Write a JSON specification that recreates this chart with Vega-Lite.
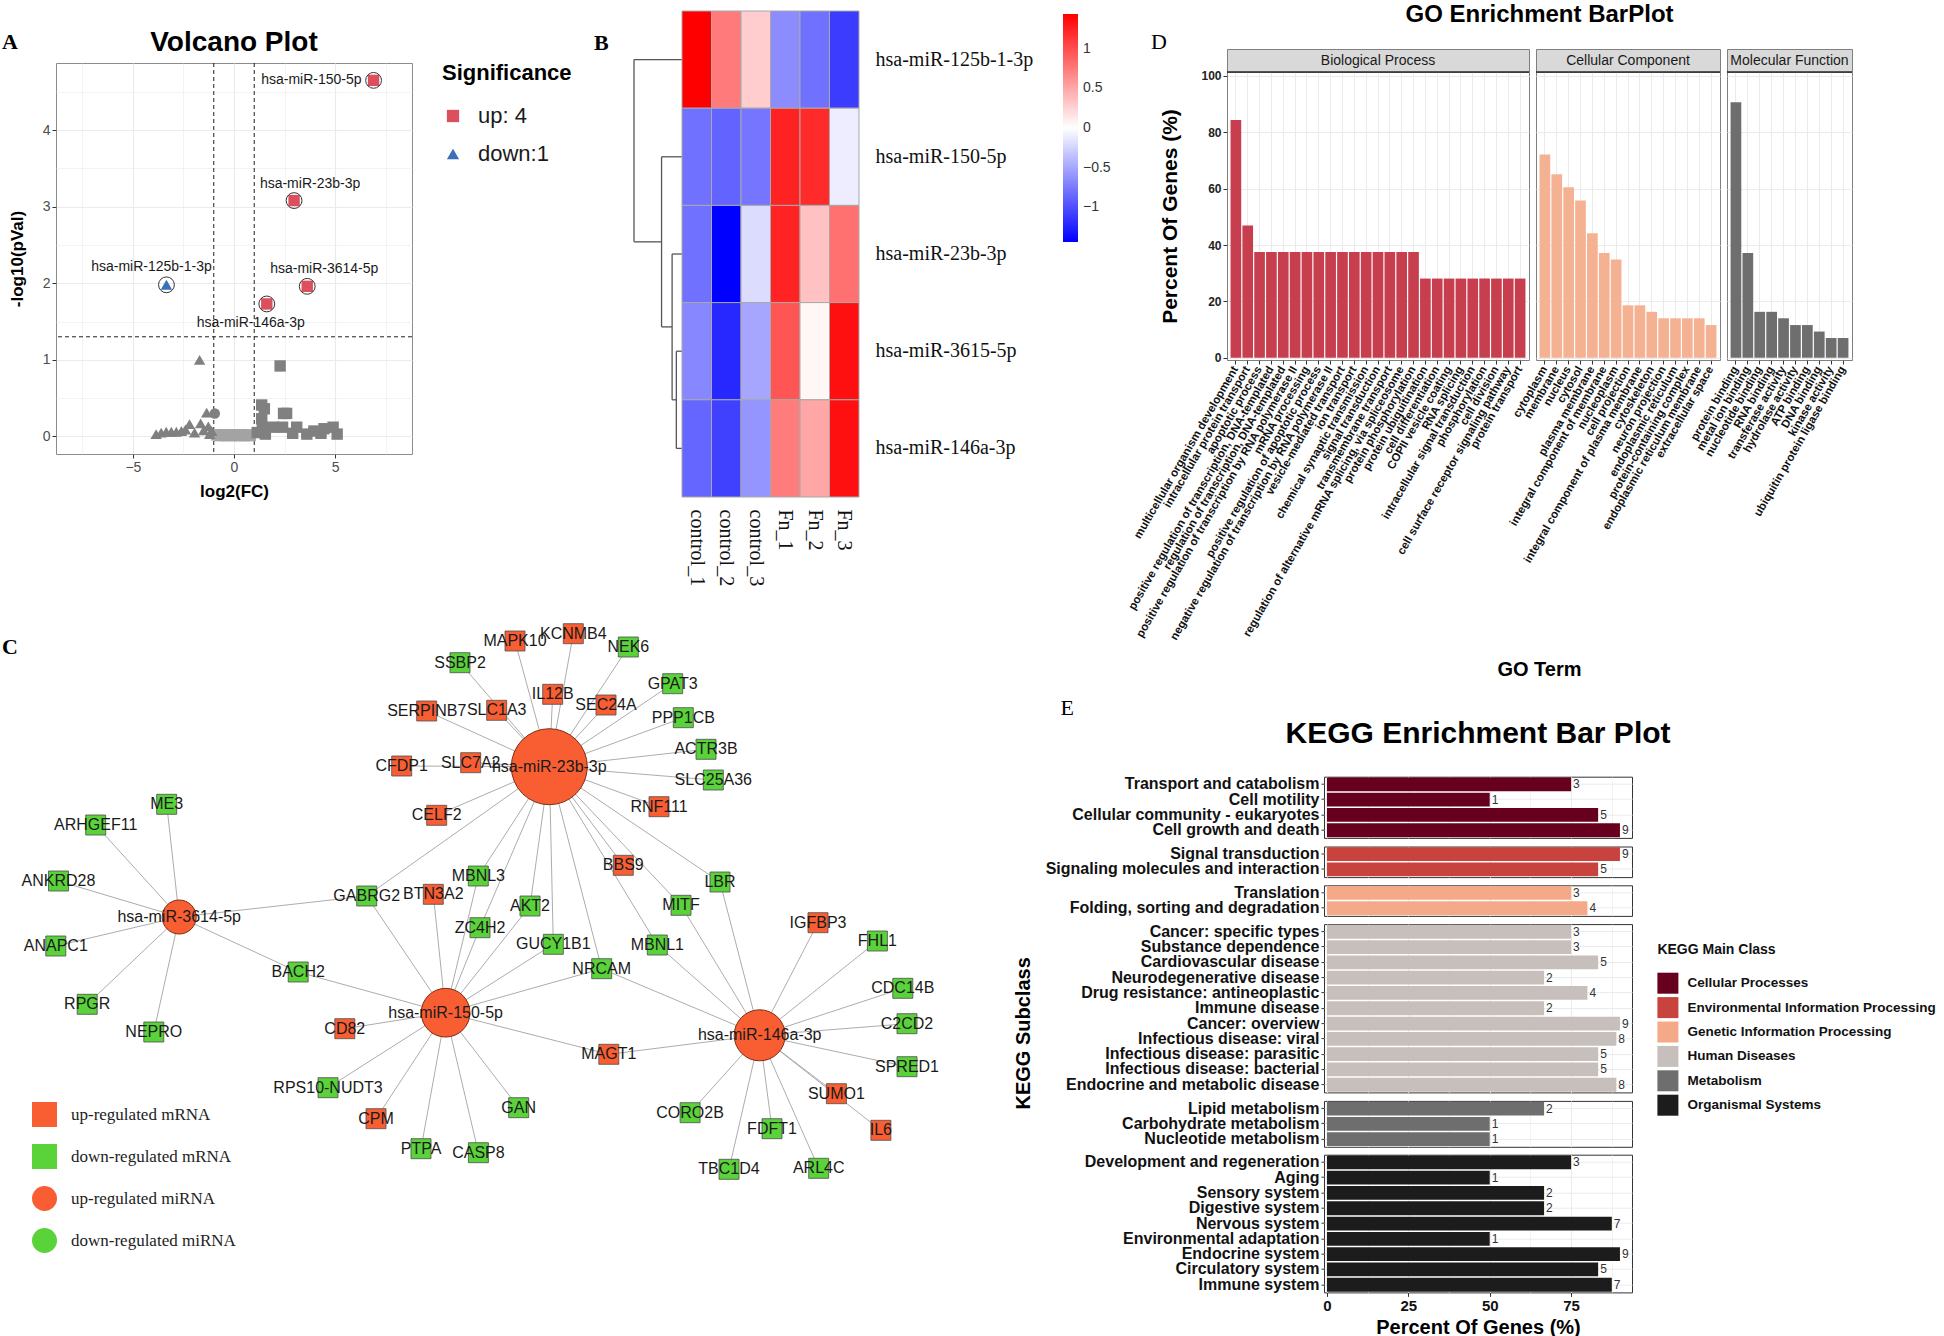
{
  "$schema": "https://vega.github.io/schema/vega-lite/v6.json",
  "background": "white",
  "padding": {"left": 2, "top": 3, "right": 0, "bottom": 0},
  "config": {
    "font": "Liberation Sans",
    "view": {"stroke": null},
    "axis": {"domain": false, "gridColor": "#EBEBEB", "tickColor": "#333333", "labelColor": "#1A1A1A", "titleColor": "#000000"},
    "legend": {"padding": 0},
    "title": {"color": "#000000"}
  },
  "datasets": {
    "volcano": [
      {"name": "hsa-miR-150-5p", "log2FC": 6.9, "logP": 4.65, "group": "up"},
      {"name": "hsa-miR-23b-3p", "log2FC": 2.97, "logP": 3.08, "group": "up"},
      {"name": "hsa-miR-3614-5p", "log2FC": 3.62, "logP": 1.96, "group": "up"},
      {"name": "hsa-miR-146a-3p", "log2FC": 1.62, "logP": 1.73, "group": "up"},
      {"name": "hsa-miR-125b-1-3p", "log2FC": -3.34, "logP": 1.98, "group": "down"},
      {"log2FC": -1.7, "logP": 1.0, "group": "ns_down"},
      {"log2FC": -1.35, "logP": 0.31, "group": "ns_down"},
      {"log2FC": -2.2, "logP": 0.16, "group": "ns_down"},
      {"log2FC": -1.65, "logP": 0.17, "group": "ns_down"},
      {"log2FC": -1.27, "logP": 0.13, "group": "ns_down"},
      {"log2FC": -3.85, "logP": 0.03, "group": "ns_down"},
      {"log2FC": -3.6, "logP": 0.05, "group": "ns_down"},
      {"log2FC": -3.35, "logP": 0.06, "group": "ns_down"},
      {"log2FC": -3.1, "logP": 0.06, "group": "ns_down"},
      {"log2FC": -2.85, "logP": 0.06, "group": "ns_down"},
      {"log2FC": -2.6, "logP": 0.07, "group": "ns_down"},
      {"log2FC": -2.4, "logP": 0.09, "group": "ns_down"},
      {"log2FC": -1.95, "logP": 0.05, "group": "ns_down"},
      {"log2FC": -1.5, "logP": 0.08, "group": "ns_down"},
      {"log2FC": -1.1, "logP": 0.07, "group": "ns_down"},
      {"log2FC": -1.2, "logP": 0.03, "group": "ns_down"},
      {"log2FC": -0.95, "logP": 0.3, "group": "ns_circle"},
      {"log2FC": 2.28, "logP": 0.92, "group": "ns_up"},
      {"log2FC": 1.37, "logP": 0.41, "group": "ns_up"},
      {"log2FC": 1.5, "logP": 0.36, "group": "ns_up"},
      {"log2FC": 2.45, "logP": 0.3, "group": "ns_up"},
      {"log2FC": 2.6, "logP": 0.3, "group": "ns_up"},
      {"log2FC": 1.37, "logP": 0.23, "group": "ns_up"},
      {"log2FC": 1.4, "logP": 0.12, "group": "ns_up"},
      {"log2FC": 1.95, "logP": 0.12, "group": "ns_up"},
      {"log2FC": 2.4, "logP": 0.12, "group": "ns_up"},
      {"log2FC": 3.1, "logP": 0.12, "group": "ns_up"},
      {"log2FC": 3.95, "logP": 0.07, "group": "ns_up"},
      {"log2FC": 4.45, "logP": 0.1, "group": "ns_up"},
      {"log2FC": 4.9, "logP": 0.12, "group": "ns_up"},
      {"log2FC": 5.1, "logP": 0.03, "group": "ns_up"},
      {"log2FC": 3.6, "logP": 0.03, "group": "ns_up"},
      {"log2FC": 1.55, "logP": 0.03, "group": "ns_up"},
      {"log2FC": 2.9, "logP": 0.04, "group": "ns_up"},
      {"log2FC": 4.3, "logP": 0.04, "group": "ns_up"},
      {"log2FC": 1.15, "logP": 0.05, "group": "ns_up"},
      {"log2FC": -0.85, "logP": 0.02, "group": "ns_mid"},
      {"log2FC": -0.7, "logP": 0.01, "group": "ns_mid"},
      {"log2FC": -0.55, "logP": 0.02, "group": "ns_mid"},
      {"log2FC": -0.4, "logP": 0.01, "group": "ns_mid"},
      {"log2FC": -0.25, "logP": 0.02, "group": "ns_mid"},
      {"log2FC": -0.1, "logP": 0.01, "group": "ns_mid"},
      {"log2FC": 0.05, "logP": 0.02, "group": "ns_mid"},
      {"log2FC": 0.2, "logP": 0.01, "group": "ns_mid"},
      {"log2FC": 0.35, "logP": 0.02, "group": "ns_mid"},
      {"log2FC": 0.5, "logP": 0.01, "group": "ns_mid"},
      {"log2FC": 0.65, "logP": 0.02, "group": "ns_mid"},
      {"log2FC": 0.8, "logP": 0.01, "group": "ns_mid"}
    ],
    "heat": [
      {"mirna": "hsa-miR-125b-1-3p", "sample": "control_1", "z": 1.44},
      {"mirna": "hsa-miR-125b-1-3p", "sample": "control_2", "z": 0.75},
      {"mirna": "hsa-miR-125b-1-3p", "sample": "control_3", "z": 0.28},
      {"mirna": "hsa-miR-125b-1-3p", "sample": "Fn_1", "z": -0.65},
      {"mirna": "hsa-miR-125b-1-3p", "sample": "Fn_2", "z": -0.8},
      {"mirna": "hsa-miR-125b-1-3p", "sample": "Fn_3", "z": -1.1},
      {"mirna": "hsa-miR-150-5p", "sample": "control_1", "z": -0.8},
      {"mirna": "hsa-miR-150-5p", "sample": "control_2", "z": -0.88},
      {"mirna": "hsa-miR-150-5p", "sample": "control_3", "z": -0.78},
      {"mirna": "hsa-miR-150-5p", "sample": "Fn_1", "z": 1.25},
      {"mirna": "hsa-miR-150-5p", "sample": "Fn_2", "z": 1.2},
      {"mirna": "hsa-miR-150-5p", "sample": "Fn_3", "z": -0.1},
      {"mirna": "hsa-miR-23b-3p", "sample": "control_1", "z": -0.8},
      {"mirna": "hsa-miR-23b-3p", "sample": "control_2", "z": -1.44},
      {"mirna": "hsa-miR-23b-3p", "sample": "control_3", "z": -0.2},
      {"mirna": "hsa-miR-23b-3p", "sample": "Fn_1", "z": 1.24},
      {"mirna": "hsa-miR-23b-3p", "sample": "Fn_2", "z": 0.35},
      {"mirna": "hsa-miR-23b-3p", "sample": "Fn_3", "z": 0.8},
      {"mirna": "hsa-miR-3615-5p", "sample": "control_1", "z": -0.68},
      {"mirna": "hsa-miR-3615-5p", "sample": "control_2", "z": -1.22},
      {"mirna": "hsa-miR-3615-5p", "sample": "control_3", "z": -0.5},
      {"mirna": "hsa-miR-3615-5p", "sample": "Fn_1", "z": 0.96},
      {"mirna": "hsa-miR-3615-5p", "sample": "Fn_2", "z": 0.05},
      {"mirna": "hsa-miR-3615-5p", "sample": "Fn_3", "z": 1.35},
      {"mirna": "hsa-miR-146a-3p", "sample": "control_1", "z": -0.87},
      {"mirna": "hsa-miR-146a-3p", "sample": "control_2", "z": -1.08},
      {"mirna": "hsa-miR-146a-3p", "sample": "control_3", "z": -0.6},
      {"mirna": "hsa-miR-146a-3p", "sample": "Fn_1", "z": 0.74},
      {"mirna": "hsa-miR-146a-3p", "sample": "Fn_2", "z": 0.5},
      {"mirna": "hsa-miR-146a-3p", "sample": "Fn_3", "z": 1.35}
    ],
    "dendro": [
      {"h": 1, "h2": 1, "pos": 0.5, "pos2": 2.375},
      {"h": 1, "h2": 0, "pos": 0.5, "pos2": 0.5},
      {"h": 1, "h2": 0.426, "pos": 2.375, "pos2": 2.375},
      {"h": 0.426, "h2": 0.426, "pos": 1.5, "pos2": 3.25},
      {"h": 0.426, "h2": 0, "pos": 1.5, "pos2": 1.5},
      {"h": 0.426, "h2": 0.206, "pos": 3.25, "pos2": 3.25},
      {"h": 0.206, "h2": 0.206, "pos": 2.5, "pos2": 4.0},
      {"h": 0.206, "h2": 0, "pos": 2.5, "pos2": 2.5},
      {"h": 0.206, "h2": 0.118, "pos": 4.0, "pos2": 4.0},
      {"h": 0.118, "h2": 0.118, "pos": 3.5, "pos2": 4.5},
      {"h": 0.118, "h2": 0, "pos": 3.5, "pos2": 3.5},
      {"h": 0.118, "h2": 0, "pos": 4.5, "pos2": 4.5}
    ],
    "nodes": [
      {"name": "hsa-miR-23b-3p", "kind": "miRNA", "type": "up-regulated miRNA", "x": 549.3, "y": 765.7, "degree": 26},
      {"name": "hsa-miR-3614-5p", "kind": "miRNA", "type": "up-regulated miRNA", "x": 179.2, "y": 916, "degree": 8},
      {"name": "hsa-miR-150-5p", "kind": "miRNA", "type": "up-regulated miRNA", "x": 445.6, "y": 1011.7, "degree": 15},
      {"name": "hsa-miR-146a-3p", "kind": "miRNA", "type": "up-regulated miRNA", "x": 759.7, "y": 1034.3, "degree": 16},
      {"name": "MAPK10", "kind": "mRNA", "type": "up-regulated mRNA", "x": 515, "y": 640},
      {"name": "KCNMB4", "kind": "mRNA", "type": "up-regulated mRNA", "x": 573.3, "y": 632.7},
      {"name": "NEK6", "kind": "mRNA", "type": "down-regulated mRNA", "x": 628.3, "y": 646},
      {"name": "SSBP2", "kind": "mRNA", "type": "down-regulated mRNA", "x": 460, "y": 661.7},
      {"name": "GPAT3", "kind": "mRNA", "type": "down-regulated mRNA", "x": 672.7, "y": 682.7},
      {"name": "IL12B", "kind": "mRNA", "type": "up-regulated mRNA", "x": 552.7, "y": 693.3},
      {"name": "SEC24A", "kind": "mRNA", "type": "up-regulated mRNA", "x": 606, "y": 704},
      {"name": "SERPINB7", "kind": "mRNA", "type": "up-regulated mRNA", "x": 426.7, "y": 710},
      {"name": "SLC1A3", "kind": "mRNA", "type": "up-regulated mRNA", "x": 496.7, "y": 709.3},
      {"name": "PPP1CB", "kind": "mRNA", "type": "down-regulated mRNA", "x": 683.3, "y": 716.7},
      {"name": "ACTR3B", "kind": "mRNA", "type": "down-regulated mRNA", "x": 706, "y": 748.3},
      {"name": "CFDP1", "kind": "mRNA", "type": "up-regulated mRNA", "x": 401.7, "y": 765},
      {"name": "SLC7A2", "kind": "mRNA", "type": "up-regulated mRNA", "x": 470.7, "y": 761.7},
      {"name": "SLC25A36", "kind": "mRNA", "type": "down-regulated mRNA", "x": 713.3, "y": 779},
      {"name": "RNF111", "kind": "mRNA", "type": "up-regulated mRNA", "x": 659, "y": 805.7},
      {"name": "CELF2", "kind": "mRNA", "type": "up-regulated mRNA", "x": 436.7, "y": 814.3},
      {"name": "BBS9", "kind": "mRNA", "type": "up-regulated mRNA", "x": 623.3, "y": 864.3},
      {"name": "LBR", "kind": "mRNA", "type": "down-regulated mRNA", "x": 720, "y": 881},
      {"name": "MBNL3", "kind": "mRNA", "type": "down-regulated mRNA", "x": 478.3, "y": 875},
      {"name": "GABRG2", "kind": "mRNA", "type": "down-regulated mRNA", "x": 366.7, "y": 895},
      {"name": "BTN3A2", "kind": "mRNA", "type": "up-regulated mRNA", "x": 433.3, "y": 893.3},
      {"name": "MITF", "kind": "mRNA", "type": "down-regulated mRNA", "x": 681, "y": 904.3},
      {"name": "AKT2", "kind": "mRNA", "type": "down-regulated mRNA", "x": 530, "y": 905},
      {"name": "ZC4H2", "kind": "mRNA", "type": "down-regulated mRNA", "x": 480, "y": 926.7},
      {"name": "GUCY1B1", "kind": "mRNA", "type": "down-regulated mRNA", "x": 553.3, "y": 943.3},
      {"name": "MBNL1", "kind": "mRNA", "type": "down-regulated mRNA", "x": 657.3, "y": 944},
      {"name": "NRCAM", "kind": "mRNA", "type": "down-regulated mRNA", "x": 601.7, "y": 967.7},
      {"name": "ME3", "kind": "mRNA", "type": "down-regulated mRNA", "x": 166.7, "y": 803.3},
      {"name": "ARHGEF11", "kind": "mRNA", "type": "down-regulated mRNA", "x": 95.7, "y": 824},
      {"name": "ANKRD28", "kind": "mRNA", "type": "down-regulated mRNA", "x": 58.5, "y": 880},
      {"name": "ANAPC1", "kind": "mRNA", "type": "down-regulated mRNA", "x": 55.8, "y": 945},
      {"name": "BACH2", "kind": "mRNA", "type": "down-regulated mRNA", "x": 298.2, "y": 971},
      {"name": "RPGR", "kind": "mRNA", "type": "down-regulated mRNA", "x": 87.2, "y": 1003.3},
      {"name": "NEPRO", "kind": "mRNA", "type": "down-regulated mRNA", "x": 153.8, "y": 1031},
      {"name": "CD82", "kind": "mRNA", "type": "up-regulated mRNA", "x": 344.8, "y": 1027.7},
      {"name": "RPS10-NUDT3", "kind": "mRNA", "type": "down-regulated mRNA", "x": 328, "y": 1086.7},
      {"name": "CPM", "kind": "mRNA", "type": "up-regulated mRNA", "x": 376, "y": 1117.7},
      {"name": "PTPA", "kind": "mRNA", "type": "down-regulated mRNA", "x": 421, "y": 1147.7},
      {"name": "CASP8", "kind": "mRNA", "type": "down-regulated mRNA", "x": 478.4, "y": 1151.7},
      {"name": "GAN", "kind": "mRNA", "type": "down-regulated mRNA", "x": 518.7, "y": 1106.7},
      {"name": "IGFBP3", "kind": "mRNA", "type": "up-regulated mRNA", "x": 818, "y": 921.7},
      {"name": "FHL1", "kind": "mRNA", "type": "down-regulated mRNA", "x": 877.4, "y": 940},
      {"name": "CDC14B", "kind": "mRNA", "type": "down-regulated mRNA", "x": 902.8, "y": 987.3},
      {"name": "C2CD2", "kind": "mRNA", "type": "down-regulated mRNA", "x": 907, "y": 1022.7},
      {"name": "SPRED1", "kind": "mRNA", "type": "down-regulated mRNA", "x": 907, "y": 1065.7},
      {"name": "MAGT1", "kind": "mRNA", "type": "up-regulated mRNA", "x": 608.8, "y": 1053.3},
      {"name": "SUMO1", "kind": "mRNA", "type": "up-regulated mRNA", "x": 836.4, "y": 1092.7},
      {"name": "IL6", "kind": "mRNA", "type": "up-regulated mRNA", "x": 880.9, "y": 1129.3},
      {"name": "CORO2B", "kind": "mRNA", "type": "down-regulated mRNA", "x": 690.1, "y": 1111.7},
      {"name": "FDFT1", "kind": "mRNA", "type": "down-regulated mRNA", "x": 772, "y": 1127.7},
      {"name": "TBC1D4", "kind": "mRNA", "type": "down-regulated mRNA", "x": 729, "y": 1168.3},
      {"name": "ARL4C", "kind": "mRNA", "type": "down-regulated mRNA", "x": 818.7, "y": 1167.3}
    ],
    "edges": [
      {"source": "hsa-miR-23b-3p", "target": "MAPK10"},
      {"source": "hsa-miR-23b-3p", "target": "KCNMB4"},
      {"source": "hsa-miR-23b-3p", "target": "NEK6"},
      {"source": "hsa-miR-23b-3p", "target": "SSBP2"},
      {"source": "hsa-miR-23b-3p", "target": "GPAT3"},
      {"source": "hsa-miR-23b-3p", "target": "IL12B"},
      {"source": "hsa-miR-23b-3p", "target": "SEC24A"},
      {"source": "hsa-miR-23b-3p", "target": "SERPINB7"},
      {"source": "hsa-miR-23b-3p", "target": "SLC1A3"},
      {"source": "hsa-miR-23b-3p", "target": "PPP1CB"},
      {"source": "hsa-miR-23b-3p", "target": "ACTR3B"},
      {"source": "hsa-miR-23b-3p", "target": "CFDP1"},
      {"source": "hsa-miR-23b-3p", "target": "SLC7A2"},
      {"source": "hsa-miR-23b-3p", "target": "SLC25A36"},
      {"source": "hsa-miR-23b-3p", "target": "RNF111"},
      {"source": "hsa-miR-23b-3p", "target": "CELF2"},
      {"source": "hsa-miR-23b-3p", "target": "BBS9"},
      {"source": "hsa-miR-23b-3p", "target": "LBR"},
      {"source": "hsa-miR-23b-3p", "target": "MITF"},
      {"source": "hsa-miR-23b-3p", "target": "MBNL1"},
      {"source": "hsa-miR-23b-3p", "target": "MBNL3"},
      {"source": "hsa-miR-23b-3p", "target": "GABRG2"},
      {"source": "hsa-miR-23b-3p", "target": "AKT2"},
      {"source": "hsa-miR-23b-3p", "target": "ZC4H2"},
      {"source": "hsa-miR-23b-3p", "target": "GUCY1B1"},
      {"source": "hsa-miR-23b-3p", "target": "NRCAM"},
      {"source": "hsa-miR-3614-5p", "target": "ME3"},
      {"source": "hsa-miR-3614-5p", "target": "ARHGEF11"},
      {"source": "hsa-miR-3614-5p", "target": "ANKRD28"},
      {"source": "hsa-miR-3614-5p", "target": "ANAPC1"},
      {"source": "hsa-miR-3614-5p", "target": "RPGR"},
      {"source": "hsa-miR-3614-5p", "target": "NEPRO"},
      {"source": "hsa-miR-3614-5p", "target": "GABRG2"},
      {"source": "hsa-miR-3614-5p", "target": "BACH2"},
      {"source": "hsa-miR-150-5p", "target": "BACH2"},
      {"source": "hsa-miR-150-5p", "target": "GABRG2"},
      {"source": "hsa-miR-150-5p", "target": "BTN3A2"},
      {"source": "hsa-miR-150-5p", "target": "MBNL3"},
      {"source": "hsa-miR-150-5p", "target": "ZC4H2"},
      {"source": "hsa-miR-150-5p", "target": "AKT2"},
      {"source": "hsa-miR-150-5p", "target": "GUCY1B1"},
      {"source": "hsa-miR-150-5p", "target": "NRCAM"},
      {"source": "hsa-miR-150-5p", "target": "CD82"},
      {"source": "hsa-miR-150-5p", "target": "RPS10-NUDT3"},
      {"source": "hsa-miR-150-5p", "target": "CPM"},
      {"source": "hsa-miR-150-5p", "target": "PTPA"},
      {"source": "hsa-miR-150-5p", "target": "CASP8"},
      {"source": "hsa-miR-150-5p", "target": "GAN"},
      {"source": "hsa-miR-150-5p", "target": "MAGT1"},
      {"source": "hsa-miR-146a-3p", "target": "NRCAM"},
      {"source": "hsa-miR-146a-3p", "target": "MBNL1"},
      {"source": "hsa-miR-146a-3p", "target": "MITF"},
      {"source": "hsa-miR-146a-3p", "target": "LBR"},
      {"source": "hsa-miR-146a-3p", "target": "IGFBP3"},
      {"source": "hsa-miR-146a-3p", "target": "FHL1"},
      {"source": "hsa-miR-146a-3p", "target": "CDC14B"},
      {"source": "hsa-miR-146a-3p", "target": "C2CD2"},
      {"source": "hsa-miR-146a-3p", "target": "SPRED1"},
      {"source": "hsa-miR-146a-3p", "target": "SUMO1"},
      {"source": "hsa-miR-146a-3p", "target": "IL6"},
      {"source": "hsa-miR-146a-3p", "target": "CORO2B"},
      {"source": "hsa-miR-146a-3p", "target": "FDFT1"},
      {"source": "hsa-miR-146a-3p", "target": "TBC1D4"},
      {"source": "hsa-miR-146a-3p", "target": "ARL4C"},
      {"source": "hsa-miR-146a-3p", "target": "MAGT1"}
    ],
    "go": [
      {"facet": "Biological Process", "term": "multicellular organism development", "pct": 84.4},
      {"facet": "Biological Process", "term": "intracellular protein transport", "pct": 46.9},
      {"facet": "Biological Process", "term": "apoptotic process", "pct": 37.5},
      {"facet": "Biological Process", "term": "positive regulation of transcription, DNA-templated", "pct": 37.5},
      {"facet": "Biological Process", "term": "regulation of transcription, DNA-templated", "pct": 37.5},
      {"facet": "Biological Process", "term": "positive regulation of transcription by RNA polymerase II", "pct": 37.5},
      {"facet": "Biological Process", "term": "mRNA processing", "pct": 37.5},
      {"facet": "Biological Process", "term": "positive regulation of apoptotic process", "pct": 37.5},
      {"facet": "Biological Process", "term": "negative regulation of transcription by RNA polymerase II", "pct": 37.5},
      {"facet": "Biological Process", "term": "vesicle-mediated transport", "pct": 37.5},
      {"facet": "Biological Process", "term": "ion transport", "pct": 37.5},
      {"facet": "Biological Process", "term": "chemical synaptic transmission", "pct": 37.5},
      {"facet": "Biological Process", "term": "signal transduction", "pct": 37.5},
      {"facet": "Biological Process", "term": "transmembrane transport", "pct": 37.5},
      {"facet": "Biological Process", "term": "regulation of alternative mRNA splicing, via spliceosome", "pct": 37.5},
      {"facet": "Biological Process", "term": "protein phosphorylation", "pct": 37.5},
      {"facet": "Biological Process", "term": "protein ubiquitination", "pct": 28.1},
      {"facet": "Biological Process", "term": "cell differentiation", "pct": 28.1},
      {"facet": "Biological Process", "term": "COPII vesicle coating", "pct": 28.1},
      {"facet": "Biological Process", "term": "RNA splicing", "pct": 28.1},
      {"facet": "Biological Process", "term": "intracellular signal transduction", "pct": 28.1},
      {"facet": "Biological Process", "term": "phosphorylation", "pct": 28.1},
      {"facet": "Biological Process", "term": "cell division", "pct": 28.1},
      {"facet": "Biological Process", "term": "cell surface receptor signaling pathway", "pct": 28.1},
      {"facet": "Biological Process", "term": "protein transport", "pct": 28.1},
      {"facet": "Cellular Component", "term": "cytoplasm", "pct": 72.1},
      {"facet": "Cellular Component", "term": "membrane", "pct": 65.1},
      {"facet": "Cellular Component", "term": "nucleus", "pct": 60.5},
      {"facet": "Cellular Component", "term": "cytosol", "pct": 55.8},
      {"facet": "Cellular Component", "term": "plasma membrane", "pct": 44.2},
      {"facet": "Cellular Component", "term": "integral component of membrane", "pct": 37.2},
      {"facet": "Cellular Component", "term": "nucleoplasm", "pct": 34.9},
      {"facet": "Cellular Component", "term": "cell projection", "pct": 18.6},
      {"facet": "Cellular Component", "term": "integral component of plasma membrane", "pct": 18.6},
      {"facet": "Cellular Component", "term": "cytoskeleton", "pct": 16.3},
      {"facet": "Cellular Component", "term": "neuron projection", "pct": 14.0},
      {"facet": "Cellular Component", "term": "endoplasmic reticulum", "pct": 14.0},
      {"facet": "Cellular Component", "term": "protein-containing complex", "pct": 14.0},
      {"facet": "Cellular Component", "term": "endoplasmic reticulum membrane", "pct": 14.0},
      {"facet": "Cellular Component", "term": "extracellular space", "pct": 11.6},
      {"facet": "Molecular Function", "term": "protein binding", "pct": 90.7},
      {"facet": "Molecular Function", "term": "metal ion binding", "pct": 37.2},
      {"facet": "Molecular Function", "term": "nucleotide binding", "pct": 16.3},
      {"facet": "Molecular Function", "term": "RNA binding", "pct": 16.3},
      {"facet": "Molecular Function", "term": "transferase activity", "pct": 14.0},
      {"facet": "Molecular Function", "term": "hydrolase activity", "pct": 11.6},
      {"facet": "Molecular Function", "term": "ATP binding", "pct": 11.6},
      {"facet": "Molecular Function", "term": "DNA binding", "pct": 9.3},
      {"facet": "Molecular Function", "term": "kinase activity", "pct": 7.0},
      {"facet": "Molecular Function", "term": "ubiquitin protein ligase binding", "pct": 7.0}
    ],
    "kegg": [
      {"class": "Cellular Processes", "subclass": "Transport and catabolism", "pct": 75, "count": 3},
      {"class": "Cellular Processes", "subclass": "Cell motility", "pct": 50, "count": 1},
      {"class": "Cellular Processes", "subclass": "Cellular community - eukaryotes", "pct": 83.3, "count": 5},
      {"class": "Cellular Processes", "subclass": "Cell growth and death", "pct": 90, "count": 9},
      {"class": "Environmental Information Processing", "subclass": "Signal transduction", "pct": 90, "count": 9},
      {"class": "Environmental Information Processing", "subclass": "Signaling molecules and interaction", "pct": 83.3, "count": 5},
      {"class": "Genetic Information Processing", "subclass": "Translation", "pct": 75, "count": 3},
      {"class": "Genetic Information Processing", "subclass": "Folding, sorting and degradation", "pct": 80, "count": 4},
      {"class": "Human Diseases", "subclass": "Cancer: specific types", "pct": 75, "count": 3},
      {"class": "Human Diseases", "subclass": "Substance dependence", "pct": 75, "count": 3},
      {"class": "Human Diseases", "subclass": "Cardiovascular disease", "pct": 83.3, "count": 5},
      {"class": "Human Diseases", "subclass": "Neurodegenerative disease", "pct": 66.7, "count": 2},
      {"class": "Human Diseases", "subclass": "Drug resistance: antineoplastic", "pct": 80, "count": 4},
      {"class": "Human Diseases", "subclass": "Immune disease", "pct": 66.7, "count": 2},
      {"class": "Human Diseases", "subclass": "Cancer: overview", "pct": 90, "count": 9},
      {"class": "Human Diseases", "subclass": "Infectious disease: viral", "pct": 88.9, "count": 8},
      {"class": "Human Diseases", "subclass": "Infectious disease: parasitic", "pct": 83.3, "count": 5},
      {"class": "Human Diseases", "subclass": "Infectious disease: bacterial", "pct": 83.3, "count": 5},
      {"class": "Human Diseases", "subclass": "Endocrine and metabolic disease", "pct": 88.9, "count": 8},
      {"class": "Metabolism", "subclass": "Lipid metabolism", "pct": 66.7, "count": 2},
      {"class": "Metabolism", "subclass": "Carbohydrate metabolism", "pct": 50, "count": 1},
      {"class": "Metabolism", "subclass": "Nucleotide metabolism", "pct": 50, "count": 1},
      {"class": "Organismal Systems", "subclass": "Development and regeneration", "pct": 75, "count": 3},
      {"class": "Organismal Systems", "subclass": "Aging", "pct": 50, "count": 1},
      {"class": "Organismal Systems", "subclass": "Sensory system", "pct": 66.7, "count": 2},
      {"class": "Organismal Systems", "subclass": "Digestive system", "pct": 66.7, "count": 2},
      {"class": "Organismal Systems", "subclass": "Nervous system", "pct": 87.5, "count": 7},
      {"class": "Organismal Systems", "subclass": "Environmental adaptation", "pct": 50, "count": 1},
      {"class": "Organismal Systems", "subclass": "Endocrine system", "pct": 90, "count": 9},
      {"class": "Organismal Systems", "subclass": "Circulatory system", "pct": 83.3, "count": 5},
      {"class": "Organismal Systems", "subclass": "Immune system", "pct": 87.5, "count": 7}
    ]
  },
  "hconcat": [
    {
      "vconcat": [
        {
          "hconcat": [
            {
              "vconcat": [
                {
                  "width": 356, "height": 52,
                  "title": {"text": "A", "font": "Liberation Serif", "fontSize": 22, "fontWeight": "bold", "anchor": "start", "frame": "group", "dx": -54, "offset": -60, "baseline": "alphabetic"},
                  "data": {"values": []},
                  "mark": "point",
                  "encoding": {}
                },
                {
                  "width": 356, "height": 391,
                  "view": {"stroke": "#8C8C8C", "strokeWidth": 1},
                  "title": {"text": "Volcano Plot", "fontSize": 28, "fontWeight": "bold", "anchor": "middle", "frame": "group", "offset": -16, "baseline": "alphabetic"},
                  "layer": [
                    {
                      "data": {"values": [{"log2FC": -1}, {"log2FC": 1}]},
                      "mark": {"type": "rule", "strokeDash": [4, 3], "color": "#222222", "strokeWidth": 1},
                      "encoding": {
                        "x": {"field": "log2FC", "type": "quantitative", "scale": {"domain": [-8.8, 8.8], "nice": false, "zero": false},
                          "axis": {"values": [-7.5, -5, -2.5, 0, 2.5, 5, 7.5], "labelExpr": "datum.value % 5 === 0 ? format(datum.value, 'd') : ''", "tickOpacity": {"condition": {"test": "datum.value % 5 !== 0", "value": 0}, "value": 1}, "gridWidth": {"condition": {"test": "datum.value % 5 !== 0", "value": 0.6}, "value": 1.1}, "title": "log2(FC)", "titleFontSize": 17, "titleFontWeight": "bold", "titlePadding": 9, "labelFontSize": 14, "labelColor": "#4D4D4D", "tickSize": 4}}
                      }
                    },
                    {
                      "data": {"values": [{"logP": 1.30103}]},
                      "mark": {"type": "rule", "strokeDash": [4, 3], "color": "#222222", "strokeWidth": 1},
                      "encoding": {
                        "y": {"field": "logP", "type": "quantitative", "scale": {"domain": [-0.23, 4.877], "nice": false, "zero": false},
                          "axis": {"values": [0, 0.5, 1, 1.5, 2, 2.5, 3, 3.5, 4, 4.5], "labelExpr": "datum.value % 1 === 0 ? format(datum.value, 'd') : ''", "tickOpacity": {"condition": {"test": "datum.value % 1 !== 0", "value": 0}, "value": 1}, "gridWidth": {"condition": {"test": "datum.value % 1 !== 0", "value": 0.6}, "value": 1.1}, "title": "-log10(pVal)", "titleFontSize": 17, "titleFontWeight": "bold", "titlePadding": 16, "labelFontSize": 14, "labelColor": "#4D4D4D", "tickSize": 4}}
                      }
                    },
                    {
                      "data": {"name": "volcano"},
                      "transform": [{"filter": "datum.group === 'ns_mid'"}],
                      "mark": {"type": "point", "shape": "square", "filled": true, "size": 130, "color": "#A3A3A3", "opacity": 1},
                      "encoding": {"x": {"field": "log2FC", "type": "quantitative"}, "y": {"field": "logP", "type": "quantitative"}}
                    },
                    {
                      "data": {"name": "volcano"},
                      "transform": [{"filter": "datum.group === 'ns_down'"}],
                      "mark": {"type": "point", "shape": "triangle-up", "filled": true, "size": 130, "color": "#808080", "opacity": 1},
                      "encoding": {"x": {"field": "log2FC", "type": "quantitative"}, "y": {"field": "logP", "type": "quantitative"}}
                    },
                    {
                      "data": {"name": "volcano"},
                      "transform": [{"filter": "datum.group === 'ns_circle'"}],
                      "mark": {"type": "point", "shape": "circle", "filled": true, "size": 110, "color": "#808080", "opacity": 1},
                      "encoding": {"x": {"field": "log2FC", "type": "quantitative"}, "y": {"field": "logP", "type": "quantitative"}}
                    },
                    {
                      "data": {"name": "volcano"},
                      "transform": [{"filter": "datum.group === 'ns_up'"}],
                      "mark": {"type": "point", "shape": "square", "filled": true, "size": 130, "color": "#808080", "opacity": 1},
                      "encoding": {"x": {"field": "log2FC", "type": "quantitative"}, "y": {"field": "logP", "type": "quantitative"}}
                    },
                    {
                      "data": {"name": "volcano"},
                      "transform": [{"filter": "datum.group === 'up' || datum.group === 'down'"}],
                      "mark": {"type": "point", "filled": true, "size": 130, "opacity": 0.92},
                      "encoding": {
                        "x": {"field": "log2FC", "type": "quantitative"},
                        "y": {"field": "logP", "type": "quantitative"},
                        "color": {"field": "group", "type": "nominal", "scale": {"domain": ["up", "down"], "range": ["#D9404F", "#2C63B0"]},
                          "legend": {"title": "Significance", "orient": "none", "legendX": 386, "legendY": 0, "titleFontSize": 22, "titleFontWeight": "bold", "titlePadding": 20, "labelFontSize": 22, "labelColor": "#1A1A1A", "labelExpr": "datum.label === 'up' ? 'up: 4' : 'down:1'", "symbolSize": 150, "rowPadding": 16, "labelOffset": 14, "symbolStrokeWidth": 0}},
                        "shape": {"field": "group", "type": "nominal", "scale": {"domain": ["up", "down"], "range": ["square", "triangle-up"]},
                          "legend": {"title": "Significance", "orient": "none", "legendX": 386, "legendY": 0, "titleFontSize": 22, "titleFontWeight": "bold", "titlePadding": 20, "labelFontSize": 22, "labelColor": "#1A1A1A", "labelExpr": "datum.label === 'up' ? 'up: 4' : 'down:1'", "symbolSize": 150, "rowPadding": 16, "labelOffset": 14, "symbolStrokeWidth": 0}}
                      }
                    },
                    {
                      "data": {"name": "volcano"},
                      "transform": [{"filter": "datum.group === 'up' || datum.group === 'down'"}],
                      "mark": {"type": "point", "shape": "circle", "filled": false, "size": 250, "stroke": "#333333", "strokeWidth": 1, "opacity": 1},
                      "encoding": {"x": {"field": "log2FC", "type": "quantitative"}, "y": {"field": "logP", "type": "quantitative"}}
                    },
                    {
                      "data": {"name": "volcano"},
                      "transform": [{"filter": "datum.name === 'hsa-miR-150-5p'"}],
                      "mark": {"type": "text", "align": "right", "baseline": "middle", "dx": -12, "fontSize": 14, "color": "#1A1A1A"},
                      "encoding": {"x": {"field": "log2FC", "type": "quantitative"}, "y": {"field": "logP", "type": "quantitative"}, "text": {"field": "name"}}
                    },
                    {
                      "data": {"name": "volcano"},
                      "transform": [{"filter": "datum.name === 'hsa-miR-23b-3p'"}],
                      "mark": {"type": "text", "align": "center", "baseline": "middle", "dx": 16, "dy": -17, "fontSize": 14, "color": "#1A1A1A"},
                      "encoding": {"x": {"field": "log2FC", "type": "quantitative"}, "y": {"field": "logP", "type": "quantitative"}, "text": {"field": "name"}}
                    },
                    {
                      "data": {"name": "volcano"},
                      "transform": [{"filter": "datum.name === 'hsa-miR-125b-1-3p'"}],
                      "mark": {"type": "text", "align": "center", "baseline": "middle", "dx": -15, "dy": -17.5, "fontSize": 14, "color": "#1A1A1A"},
                      "encoding": {"x": {"field": "log2FC", "type": "quantitative"}, "y": {"field": "logP", "type": "quantitative"}, "text": {"field": "name"}}
                    },
                    {
                      "data": {"name": "volcano"},
                      "transform": [{"filter": "datum.name === 'hsa-miR-3614-5p'"}],
                      "mark": {"type": "text", "align": "center", "baseline": "middle", "dx": 17, "dy": -17, "fontSize": 14, "color": "#1A1A1A"},
                      "encoding": {"x": {"field": "log2FC", "type": "quantitative"}, "y": {"field": "logP", "type": "quantitative"}, "text": {"field": "name"}}
                    },
                    {
                      "data": {"name": "volcano"},
                      "transform": [{"filter": "datum.name === 'hsa-miR-146a-3p'"}],
                      "mark": {"type": "text", "align": "center", "baseline": "middle", "dx": -16, "dy": 19, "fontSize": 14, "color": "#1A1A1A"},
                      "encoding": {"x": {"field": "log2FC", "type": "quantitative"}, "y": {"field": "logP", "type": "quantitative"}, "text": {"field": "name"}}
                    }
                  ]
                }
              ],
              "spacing": 0,
              "bounds": "flush",
              "resolve": {"scale": {"color": "independent", "shape": "independent", "size": "independent"}}
            },
            {
              "hconcat": [
                {
                  "width": 48, "height": 486,
                  "title": {"text": "B", "font": "Liberation Serif", "fontSize": 22, "fontWeight": "bold", "anchor": "start", "frame": "group", "dx": -40, "offset": -61, "baseline": "alphabetic"},
                  "data": {"name": "dendro"},
                  "mark": {"type": "rule", "color": "#555555", "strokeWidth": 1.3},
                  "encoding": {
                    "x": {"field": "h", "type": "quantitative", "scale": {"domain": [0, 1], "reverse": true, "nice": false, "zero": false}, "axis": null},
                    "x2": {"field": "h2"},
                    "y": {"field": "pos", "type": "quantitative", "scale": {"domain": [0, 5], "reverse": true, "nice": false, "zero": false}, "axis": null},
                    "y2": {"field": "pos2"}
                  }
                },
                {
                  "width": 177, "height": 486,
                  "data": {"name": "heat"},
                  "mark": {"type": "rect", "stroke": "#A8A8A8", "strokeWidth": 1},
                  "encoding": {
                    "x": {"field": "sample", "type": "nominal", "sort": ["control_1", "control_2", "control_3", "Fn_1", "Fn_2", "Fn_3"], "scale": {"paddingInner": 0, "paddingOuter": 0},
                      "axis": {"orient": "bottom", "labelAngle": 90, "labelFont": "Liberation Serif", "labelFontSize": 20, "labelColor": "#111111", "ticks": false, "domain": false, "title": null, "labelPadding": 12}},
                    "y": {"field": "mirna", "type": "nominal", "sort": ["hsa-miR-125b-1-3p", "hsa-miR-150-5p", "hsa-miR-23b-3p", "hsa-miR-3615-5p", "hsa-miR-146a-3p"], "scale": {"paddingInner": 0, "paddingOuter": 0},
                      "axis": {"orient": "right", "labelFont": "Liberation Serif", "labelFontSize": 20, "labelColor": "#111111", "ticks": false, "domain": false, "title": null, "labelPadding": 16, "labelLimit": 300}},
                    "color": {"field": "z", "type": "quantitative", "scale": {"domain": [-1.44, 1.44], "domainMid": 0, "range": ["#0000FF", "#FFFFFF", "#FF0000"], "interpolate": "rgb"},
                      "legend": {"title": null, "orient": "none", "direction": "vertical", "legendX": 381, "legendY": 3, "gradientLength": 228, "gradientThickness": 15, "values": [-1, -0.5, 0, 0.5, 1], "format": "~g", "labelFontSize": 14, "labelColor": "#333333", "labelOffset": 5}}
                  }
                }
              ],
              "spacing": 0,
              "bounds": "flush",
              "resolve": {"scale": {"color": "independent", "shape": "independent", "size": "independent"}}
            }
          ],
          "spacing": 578,
          "bounds": "flush",
          "resolve": {"scale": {"color": "independent", "shape": "independent", "size": "independent"}}
        },
        {
          "width": 900, "height": 640,
          "title": {"text": "C", "font": "Liberation Serif", "fontSize": 22, "fontWeight": "bold", "anchor": "start", "frame": "group", "dx": -54, "offset": -55, "baseline": "alphabetic"},
          "layer": [
            {
              "data": {"name": "edges"},
              "transform": [
                {"lookup": "source", "from": {"data": {"name": "nodes"}, "key": "name", "fields": ["x", "y"]}, "as": ["sx", "sy"]},
                {"lookup": "target", "from": {"data": {"name": "nodes"}, "key": "name", "fields": ["x", "y"]}, "as": ["tx", "ty"]}
              ],
              "mark": {"type": "rule", "color": "#ACACAC", "strokeWidth": 1},
              "encoding": {
                "x": {"field": "sx", "type": "quantitative", "scale": {"domain": [56, 956], "nice": false, "zero": false}, "axis": null},
                "y": {"field": "sy", "type": "quantitative", "scale": {"domain": [620, 1260], "nice": false, "zero": false, "reverse": true}, "axis": null},
                "x2": {"field": "tx"},
                "y2": {"field": "ty"}
              }
            },
            {
              "data": {"name": "nodes"},
              "transform": [{"filter": "datum.kind === 'mRNA'"}],
              "mark": {"type": "point", "filled": true, "size": 400, "opacity": 1, "stroke": "#4D4D4D", "strokeWidth": 0.8},
              "encoding": {
                "x": {"field": "x", "type": "quantitative", "axis": null},
                "y": {"field": "y", "type": "quantitative", "axis": null},
                "color": {"field": "type", "type": "nominal", "scale": {"domain": ["up-regulated mRNA", "down-regulated mRNA", "up-regulated miRNA", "down-regulated miRNA"], "range": ["#F95E33", "#5AD23A", "#F95E33", "#5AD23A"]},
                  "legend": {"title": null, "orient": "none", "legendX": -24, "legendY": 481, "symbolSize": 625, "labelFont": "Liberation Serif", "labelFontSize": 17, "labelColor": "#222222", "rowPadding": 17, "labelOffset": 14, "labelLimit": 300, "symbolStrokeWidth": 0}},
                "shape": {"field": "type", "type": "nominal", "scale": {"domain": ["up-regulated mRNA", "down-regulated mRNA", "up-regulated miRNA", "down-regulated miRNA"], "range": ["square", "square", "circle", "circle"]},
                  "legend": {"title": null, "orient": "none", "legendX": -24, "legendY": 481, "symbolSize": 625, "labelFont": "Liberation Serif", "labelFontSize": 17, "labelColor": "#222222", "rowPadding": 17, "labelOffset": 14, "labelLimit": 300, "symbolStrokeWidth": 0}}
              }
            },
            {
              "data": {"name": "nodes"},
              "transform": [{"filter": "datum.kind === 'miRNA'"}],
              "mark": {"type": "point", "filled": true, "opacity": 1, "stroke": "#7A2E12", "strokeWidth": 1},
              "encoding": {
                "x": {"field": "x", "type": "quantitative", "axis": null},
                "y": {"field": "y", "type": "quantitative", "axis": null},
                "size": {"field": "degree", "type": "quantitative", "scale": {"type": "pow", "exponent": 2, "domain": [8, 26], "range": [1156, 5776], "zero": false}, "legend": null},
                "color": {"field": "type", "type": "nominal", "scale": {"domain": ["up-regulated mRNA", "down-regulated mRNA", "up-regulated miRNA", "down-regulated miRNA"], "range": ["#F95E33", "#5AD23A", "#F95E33", "#5AD23A"]},
                  "legend": {"title": null, "orient": "none", "legendX": -24, "legendY": 481, "symbolSize": 625, "labelFont": "Liberation Serif", "labelFontSize": 17, "labelColor": "#222222", "rowPadding": 17, "labelOffset": 14, "labelLimit": 300, "symbolStrokeWidth": 0}},
                "shape": {"field": "type", "type": "nominal", "scale": {"domain": ["up-regulated mRNA", "down-regulated mRNA", "up-regulated miRNA", "down-regulated miRNA"], "range": ["square", "square", "circle", "circle"]},
                  "legend": {"title": null, "orient": "none", "legendX": -24, "legendY": 481, "symbolSize": 625, "labelFont": "Liberation Serif", "labelFontSize": 17, "labelColor": "#222222", "rowPadding": 17, "labelOffset": 14, "labelLimit": 300, "symbolStrokeWidth": 0}}
              }
            },
            {
              "data": {"name": "nodes"},
              "mark": {"type": "text", "fontSize": 16, "color": "#1A1A1A", "baseline": "middle"},
              "encoding": {
                "x": {"field": "x", "type": "quantitative", "axis": null},
                "y": {"field": "y", "type": "quantitative", "axis": null},
                "text": {"field": "name"}
              }
            }
          ]
        }
      ],
      "spacing": 610,
      "bounds": "flush",
      "resolve": {"scale": {"color": "independent", "shape": "independent", "size": "independent"}}
    },
    {
      "vconcat": [
        {
          "width": 625, "height": 38,
          "title": {"text": "GO Enrichment BarPlot", "fontSize": 24, "fontWeight": "bold", "anchor": "middle", "frame": "group", "offset": -35, "baseline": "alphabetic"},
          "data": {"values": []},
          "mark": "point",
          "encoding": {}
        },
        {
          "vconcat": [
            {
              "vconcat": [
                {
                  "hconcat": [
                    {
                      "width": 302, "height": 23,
                      "view": {"fill": "#D9D9D9", "stroke": "#7F7F7F"},
                      "title": {"text": "D", "font": "Liberation Serif", "fontSize": 22, "fontWeight": "normal", "anchor": "start", "frame": "group", "dx": -76, "offset": -22, "baseline": "alphabetic"},
                      "data": {"values": [{"facet": "Biological Process"}]},
                      "mark": {"type": "text", "fontSize": 14, "color": "#1A1A1A"},
                      "encoding": {"text": {"field": "facet", "type": "nominal"}}
                    },
                    {
                      "width": 184, "height": 23,
                      "view": {"fill": "#D9D9D9", "stroke": "#7F7F7F"},
                      "data": {"values": [{"facet": "Cellular Component"}]},
                      "mark": {"type": "text", "fontSize": 14, "color": "#1A1A1A"},
                      "encoding": {"text": {"field": "facet", "type": "nominal"}}
                    },
                    {
                      "width": 125, "height": 23,
                      "view": {"fill": "#D9D9D9", "stroke": "#7F7F7F"},
                      "data": {"values": [{"facet": "Molecular Function"}]},
                      "mark": {"type": "text", "fontSize": 14, "color": "#1A1A1A"},
                      "encoding": {"text": {"field": "facet", "type": "nominal"}}
                    }
                  ],
                  "spacing": 7,
                  "bounds": "flush"
                },
                {
                  "hconcat": [
                    {
                      "width": 302, "height": 288,
                      "view": {"stroke": "#7F7F7F"},
                      "title": {"text": "GO Term", "orient": "bottom", "fontSize": 20, "fontWeight": "bold", "anchor": "start", "align": "center", "frame": "group", "dx": 312.5, "offset": 18},
                      "layer": [
                        {
                          "data": {"name": "go"},
                          "transform": [{"filter": "datum.facet === 'Biological Process'"}],
                          "mark": {"type": "bar", "color": "#C73E4F"},
                          "encoding": {
                            "x": {"field": "term", "type": "nominal", "sort": null, "scale": {"paddingInner": 0.1, "paddingOuter": 0.3},
                              "axis": {"title": null, "labelAngle": -60, "labelAlign": "right", "labelBaseline": "middle", "labelFontSize": 11.5, "labelFontWeight": "bold", "labelColor": "#111111", "labelLimit": 500, "labelPadding": 3, "labelOverlap": false, "tickSize": 4, "tickColor": "#333333", "grid": true, "gridColor": "#EBEBEB", "bandPosition": 0.5}},
                            "y": {"field": "pct", "type": "quantitative", "scale": {"domain": [-0.8, 101.4], "nice": false, "zero": false},
                              "axis": {"values": [0, 10, 20, 30, 40, 50, 60, 70, 80, 90, 100], "labelExpr": "datum.value % 20 === 0 ? datum.label : ''", "tickOpacity": {"condition": {"test": "datum.value % 20 !== 0", "value": 0}, "value": 1}, "gridWidth": {"condition": {"test": "datum.value % 20 !== 0", "value": 0.6}, "value": 1.1}, "title": "Percent Of Genes (%)", "titleFontSize": 21, "titleFontWeight": "bold", "titlePadding": 20, "labelFontSize": 12, "labelFontWeight": "bold", "labelColor": "#222222", "tickSize": 4}},
                            "y2": {"datum": 0}
                          }
                        },
                        {
                          "data": {"values": [{}]},
                          "mark": {"type": "rule", "color": "#262626", "strokeWidth": 1.6},
                          "encoding": {"y": {"datum": 101.4, "type": "quantitative"}}
                        }
                      ]
                    },
                    {
                      "width": 184, "height": 288,
                      "view": {"stroke": "#7F7F7F"},
                      "layer": [
                        {
                          "data": {"name": "go"},
                          "transform": [{"filter": "datum.facet === 'Cellular Component'"}],
                          "mark": {"type": "bar", "color": "#F5B292"},
                          "encoding": {
                            "x": {"field": "term", "type": "nominal", "sort": null, "scale": {"paddingInner": 0.1, "paddingOuter": 0.3},
                              "axis": {"title": null, "labelAngle": -60, "labelAlign": "right", "labelBaseline": "middle", "labelFontSize": 11.5, "labelFontWeight": "bold", "labelColor": "#111111", "labelLimit": 500, "labelPadding": 3, "labelOverlap": false, "tickSize": 4, "tickColor": "#333333", "grid": true, "gridColor": "#EBEBEB", "bandPosition": 0.5}},
                            "y": {"field": "pct", "type": "quantitative", "scale": {"domain": [-0.8, 101.4], "nice": false, "zero": false},
                              "axis": {"values": [0, 10, 20, 30, 40, 50, 60, 70, 80, 90, 100], "labels": false, "ticks": false, "title": null, "gridWidth": {"condition": {"test": "datum.value % 20 !== 0", "value": 0.6}, "value": 1.1}}},
                            "y2": {"datum": 0}
                          }
                        },
                        {
                          "data": {"values": [{}]},
                          "mark": {"type": "rule", "color": "#262626", "strokeWidth": 1.6},
                          "encoding": {"y": {"datum": 101.4, "type": "quantitative"}}
                        }
                      ]
                    },
                    {
                      "width": 125, "height": 288,
                      "view": {"stroke": "#7F7F7F"},
                      "layer": [
                        {
                          "data": {"name": "go"},
                          "transform": [{"filter": "datum.facet === 'Molecular Function'"}],
                          "mark": {"type": "bar", "color": "#6E6E6E"},
                          "encoding": {
                            "x": {"field": "term", "type": "nominal", "sort": null, "scale": {"paddingInner": 0.1, "paddingOuter": 0.3},
                              "axis": {"title": null, "labelAngle": -60, "labelAlign": "right", "labelBaseline": "middle", "labelFontSize": 11.5, "labelFontWeight": "bold", "labelColor": "#111111", "labelLimit": 500, "labelPadding": 3, "labelOverlap": false, "tickSize": 4, "tickColor": "#333333", "grid": true, "gridColor": "#EBEBEB", "bandPosition": 0.5}},
                            "y": {"field": "pct", "type": "quantitative", "scale": {"domain": [-0.8, 101.4], "nice": false, "zero": false},
                              "axis": {"values": [0, 10, 20, 30, 40, 50, 60, 70, 80, 90, 100], "labels": false, "ticks": false, "title": null, "gridWidth": {"condition": {"test": "datum.value % 20 !== 0", "value": 0.6}, "value": 1.1}}},
                            "y2": {"datum": 0}
                          }
                        },
                        {
                          "data": {"values": [{}]},
                          "mark": {"type": "rule", "color": "#262626", "strokeWidth": 1.6},
                          "encoding": {"y": {"datum": 101.4, "type": "quantitative"}}
                        }
                      ]
                    }
                  ],
                  "spacing": 7,
                  "bounds": "flush"
                }
              ],
              "spacing": 23,
              "bounds": "flush"
            },
            {
              "hconcat": [
                {
                  "width": 96.6, "height": 513.3,
                  "title": {"text": "KEGG Subclass", "orient": "left", "fontSize": 20, "fontWeight": "bold", "anchor": "middle", "frame": "group", "offset": 193},
                  "data": {"values": []},
                  "mark": "point",
                  "encoding": {}
                },
                {
                  "vconcat": [
                    {
                      "width": 308, "height": 61.2,
                      "view": {"stroke": "#333333", "strokeWidth": 1},
                      "title": {"text": "KEGG Enrichment Bar Plot", "fontSize": 30, "fontWeight": "bold", "anchor": "middle", "frame": "group", "offset": 2.7, "baseline": "alphabetic"},
                      "data": {"name": "kegg"},
                      "transform": [{"filter": "datum['class'] === 'Cellular Processes'"}],
                      "encoding": {
                        "y": {"field": "subclass", "type": "nominal", "sort": null, "scale": {"paddingInner": 0.1, "paddingOuter": 0.05}, "axis": {"title": null, "labelFontSize": 16, "labelFontWeight": "bold", "labelColor": "#111111", "labelLimit": 400, "tickSize": 3, "labelPadding": 2, "grid": true, "bandPosition": 0.5}},
                        "x": {"field": "pct", "type": "quantitative", "scale": {"domain": [-0.9, 93.7], "nice": false, "zero": false}, "axis": {"values": [0, 12.5, 25, 37.5, 50, 62.5, 75, 87.5], "labels": false, "ticks": false, "title": null, "gridWidth": {"condition": {"test": "datum.value % 25 !== 0", "value": 0.6}, "value": 1}}}
                      },
                      "layer": [
                        {"mark": {"type": "bar"}, "encoding": {"x2": {"datum": 0}, "color": {"field": "class", "type": "nominal", "scale": {"domain": ["Cellular Processes", "Environmental Information Processing", "Genetic Information Processing", "Human Diseases", "Metabolism", "Organismal Systems"], "range": ["#67001F", "#C8423E", "#F4AA88", "#C6BFBC", "#6E6E6E", "#1C1C1C"]}, "legend": {"title": "KEGG Main Class", "orient": "none", "legendX": 333.4, "legendY": 166, "symbolType": "square", "symbolSize": 441, "symbolStrokeWidth": 0, "symbolOpacity": 1, "titleFontSize": 14, "titleFontWeight": "bold", "titleColor": "#111111", "titlePadding": 16, "labelFontSize": 13.5, "labelFontWeight": "bold", "labelColor": "#111111", "labelOffset": 9, "rowPadding": 3.4, "labelLimit": 400}}}},
                        {"mark": {"type": "text", "align": "left", "baseline": "middle", "dx": 2, "fontSize": 12, "color": "#333333"}, "encoding": {"text": {"field": "count", "type": "quantitative"}}}
                      ]
                    },
                    {
                      "width": 308, "height": 30.6,
                      "view": {"stroke": "#333333", "strokeWidth": 1},
                      "title": {"text": "E", "font": "Liberation Serif", "fontSize": 22, "fontWeight": "normal", "anchor": "start", "frame": "group", "dx": -263.6, "offset": 109, "baseline": "alphabetic"},
                      "data": {"name": "kegg"},
                      "transform": [{"filter": "datum['class'] === 'Environmental Information Processing'"}],
                      "encoding": {
                        "y": {"field": "subclass", "type": "nominal", "sort": null, "scale": {"paddingInner": 0.1, "paddingOuter": 0.05}, "axis": {"title": null, "labelFontSize": 16, "labelFontWeight": "bold", "labelColor": "#111111", "labelLimit": 400, "tickSize": 3, "labelPadding": 2, "grid": true, "bandPosition": 0.5}},
                        "x": {"field": "pct", "type": "quantitative", "scale": {"domain": [-0.9, 93.7], "nice": false, "zero": false}, "axis": {"values": [0, 12.5, 25, 37.5, 50, 62.5, 75, 87.5], "labels": false, "ticks": false, "title": null, "gridWidth": {"condition": {"test": "datum.value % 25 !== 0", "value": 0.6}, "value": 1}}}
                      },
                      "layer": [
                        {"mark": {"type": "bar"}, "encoding": {"x2": {"datum": 0}, "color": {"field": "class", "type": "nominal", "scale": {"domain": ["Cellular Processes", "Environmental Information Processing", "Genetic Information Processing", "Human Diseases", "Metabolism", "Organismal Systems"], "range": ["#67001F", "#C8423E", "#F4AA88", "#C6BFBC", "#6E6E6E", "#1C1C1C"]}, "legend": {"title": "KEGG Main Class", "orient": "none", "legendX": 333.4, "legendY": 166, "symbolType": "square", "symbolSize": 441, "symbolStrokeWidth": 0, "symbolOpacity": 1, "titleFontSize": 14, "titleFontWeight": "bold", "titleColor": "#111111", "titlePadding": 16, "labelFontSize": 13.5, "labelFontWeight": "bold", "labelColor": "#111111", "labelOffset": 9, "rowPadding": 3.4, "labelLimit": 400}}}},
                        {"mark": {"type": "text", "align": "left", "baseline": "middle", "dx": 2, "fontSize": 12, "color": "#333333"}, "encoding": {"text": {"field": "count", "type": "quantitative"}}}
                      ]
                    },
                    {
                      "width": 308, "height": 30.6,
                      "view": {"stroke": "#333333", "strokeWidth": 1},
                      "data": {"name": "kegg"},
                      "transform": [{"filter": "datum['class'] === 'Genetic Information Processing'"}],
                      "encoding": {
                        "y": {"field": "subclass", "type": "nominal", "sort": null, "scale": {"paddingInner": 0.1, "paddingOuter": 0.05}, "axis": {"title": null, "labelFontSize": 16, "labelFontWeight": "bold", "labelColor": "#111111", "labelLimit": 400, "tickSize": 3, "labelPadding": 2, "grid": true, "bandPosition": 0.5}},
                        "x": {"field": "pct", "type": "quantitative", "scale": {"domain": [-0.9, 93.7], "nice": false, "zero": false}, "axis": {"values": [0, 12.5, 25, 37.5, 50, 62.5, 75, 87.5], "labels": false, "ticks": false, "title": null, "gridWidth": {"condition": {"test": "datum.value % 25 !== 0", "value": 0.6}, "value": 1}}}
                      },
                      "layer": [
                        {"mark": {"type": "bar"}, "encoding": {"x2": {"datum": 0}, "color": {"field": "class", "type": "nominal", "scale": {"domain": ["Cellular Processes", "Environmental Information Processing", "Genetic Information Processing", "Human Diseases", "Metabolism", "Organismal Systems"], "range": ["#67001F", "#C8423E", "#F4AA88", "#C6BFBC", "#6E6E6E", "#1C1C1C"]}, "legend": {"title": "KEGG Main Class", "orient": "none", "legendX": 333.4, "legendY": 166, "symbolType": "square", "symbolSize": 441, "symbolStrokeWidth": 0, "symbolOpacity": 1, "titleFontSize": 14, "titleFontWeight": "bold", "titleColor": "#111111", "titlePadding": 16, "labelFontSize": 13.5, "labelFontWeight": "bold", "labelColor": "#111111", "labelOffset": 9, "rowPadding": 3.4, "labelLimit": 400}}}},
                        {"mark": {"type": "text", "align": "left", "baseline": "middle", "dx": 2, "fontSize": 12, "color": "#333333"}, "encoding": {"text": {"field": "count", "type": "quantitative"}}}
                      ]
                    },
                    {
                      "width": 308, "height": 168.3,
                      "view": {"stroke": "#333333", "strokeWidth": 1},
                      "data": {"name": "kegg"},
                      "transform": [{"filter": "datum['class'] === 'Human Diseases'"}],
                      "encoding": {
                        "y": {"field": "subclass", "type": "nominal", "sort": null, "scale": {"paddingInner": 0.1, "paddingOuter": 0.05}, "axis": {"title": null, "labelFontSize": 16, "labelFontWeight": "bold", "labelColor": "#111111", "labelLimit": 400, "tickSize": 3, "labelPadding": 2, "grid": true, "bandPosition": 0.5}},
                        "x": {"field": "pct", "type": "quantitative", "scale": {"domain": [-0.9, 93.7], "nice": false, "zero": false}, "axis": {"values": [0, 12.5, 25, 37.5, 50, 62.5, 75, 87.5], "labels": false, "ticks": false, "title": null, "gridWidth": {"condition": {"test": "datum.value % 25 !== 0", "value": 0.6}, "value": 1}}}
                      },
                      "layer": [
                        {"mark": {"type": "bar"}, "encoding": {"x2": {"datum": 0}, "color": {"field": "class", "type": "nominal", "scale": {"domain": ["Cellular Processes", "Environmental Information Processing", "Genetic Information Processing", "Human Diseases", "Metabolism", "Organismal Systems"], "range": ["#67001F", "#C8423E", "#F4AA88", "#C6BFBC", "#6E6E6E", "#1C1C1C"]}, "legend": {"title": "KEGG Main Class", "orient": "none", "legendX": 333.4, "legendY": 166, "symbolType": "square", "symbolSize": 441, "symbolStrokeWidth": 0, "symbolOpacity": 1, "titleFontSize": 14, "titleFontWeight": "bold", "titleColor": "#111111", "titlePadding": 16, "labelFontSize": 13.5, "labelFontWeight": "bold", "labelColor": "#111111", "labelOffset": 9, "rowPadding": 3.4, "labelLimit": 400}}}},
                        {"mark": {"type": "text", "align": "left", "baseline": "middle", "dx": 2, "fontSize": 12, "color": "#333333"}, "encoding": {"text": {"field": "count", "type": "quantitative"}}}
                      ]
                    },
                    {
                      "width": 308, "height": 45.9,
                      "view": {"stroke": "#333333", "strokeWidth": 1},
                      "data": {"name": "kegg"},
                      "transform": [{"filter": "datum['class'] === 'Metabolism'"}],
                      "encoding": {
                        "y": {"field": "subclass", "type": "nominal", "sort": null, "scale": {"paddingInner": 0.1, "paddingOuter": 0.05}, "axis": {"title": null, "labelFontSize": 16, "labelFontWeight": "bold", "labelColor": "#111111", "labelLimit": 400, "tickSize": 3, "labelPadding": 2, "grid": true, "bandPosition": 0.5}},
                        "x": {"field": "pct", "type": "quantitative", "scale": {"domain": [-0.9, 93.7], "nice": false, "zero": false}, "axis": {"values": [0, 12.5, 25, 37.5, 50, 62.5, 75, 87.5], "labels": false, "ticks": false, "title": null, "gridWidth": {"condition": {"test": "datum.value % 25 !== 0", "value": 0.6}, "value": 1}}}
                      },
                      "layer": [
                        {"mark": {"type": "bar"}, "encoding": {"x2": {"datum": 0}, "color": {"field": "class", "type": "nominal", "scale": {"domain": ["Cellular Processes", "Environmental Information Processing", "Genetic Information Processing", "Human Diseases", "Metabolism", "Organismal Systems"], "range": ["#67001F", "#C8423E", "#F4AA88", "#C6BFBC", "#6E6E6E", "#1C1C1C"]}, "legend": {"title": "KEGG Main Class", "orient": "none", "legendX": 333.4, "legendY": 166, "symbolType": "square", "symbolSize": 441, "symbolStrokeWidth": 0, "symbolOpacity": 1, "titleFontSize": 14, "titleFontWeight": "bold", "titleColor": "#111111", "titlePadding": 16, "labelFontSize": 13.5, "labelFontWeight": "bold", "labelColor": "#111111", "labelOffset": 9, "rowPadding": 3.4, "labelLimit": 400}}}},
                        {"mark": {"type": "text", "align": "left", "baseline": "middle", "dx": 2, "fontSize": 12, "color": "#333333"}, "encoding": {"text": {"field": "count", "type": "quantitative"}}}
                      ]
                    },
                    {
                      "width": 308, "height": 137.7,
                      "view": {"stroke": "#333333", "strokeWidth": 1},
                      "data": {"name": "kegg"},
                      "transform": [{"filter": "datum['class'] === 'Organismal Systems'"}],
                      "encoding": {
                        "y": {"field": "subclass", "type": "nominal", "sort": null, "scale": {"paddingInner": 0.1, "paddingOuter": 0.05}, "axis": {"title": null, "labelFontSize": 16, "labelFontWeight": "bold", "labelColor": "#111111", "labelLimit": 400, "tickSize": 3, "labelPadding": 2, "grid": true, "bandPosition": 0.5}},
                        "x": {"field": "pct", "type": "quantitative", "scale": {"domain": [-0.9, 93.7], "nice": false, "zero": false}, "axis": {"values": [0, 12.5, 25, 37.5, 50, 62.5, 75, 87.5], "labelExpr": "datum.value % 25 === 0 ? datum.label : ''", "tickOpacity": {"condition": {"test": "datum.value % 25 !== 0", "value": 0}, "value": 1}, "gridWidth": {"condition": {"test": "datum.value % 25 !== 0", "value": 0.6}, "value": 1}, "labelFontSize": 15, "labelFontWeight": "bold", "labelColor": "#111111", "tickSize": 4, "title": "Percent Of Genes (%)", "titleFontSize": 20, "titleFontWeight": "bold", "titlePadding": 4}}
                      },
                      "layer": [
                        {"mark": {"type": "bar"}, "encoding": {"x2": {"datum": 0}, "color": {"field": "class", "type": "nominal", "scale": {"domain": ["Cellular Processes", "Environmental Information Processing", "Genetic Information Processing", "Human Diseases", "Metabolism", "Organismal Systems"], "range": ["#67001F", "#C8423E", "#F4AA88", "#C6BFBC", "#6E6E6E", "#1C1C1C"]}, "legend": {"title": "KEGG Main Class", "orient": "none", "legendX": 333.4, "legendY": 166, "symbolType": "square", "symbolSize": 441, "symbolStrokeWidth": 0, "symbolOpacity": 1, "titleFontSize": 14, "titleFontWeight": "bold", "titleColor": "#111111", "titlePadding": 16, "labelFontSize": 13.5, "labelFontWeight": "bold", "labelColor": "#111111", "labelOffset": 9, "rowPadding": 3.4, "labelLimit": 400}}}},
                        {"mark": {"type": "text", "align": "left", "baseline": "middle", "dx": 2, "fontSize": 12, "color": "#333333"}, "encoding": {"text": {"field": "count", "type": "quantitative"}}}
                      ]
                    }
                  ],
                  "spacing": 7.8,
                  "bounds": "flush"
                }
              ],
              "spacing": 0,
              "bounds": "flush",
              "resolve": {"scale": {"color": "independent", "shape": "independent", "size": "independent"}}
            }
          ],
          "spacing": 727.7,
          "bounds": "flush",
          "resolve": {"scale": {"color": "independent", "shape": "independent", "size": "independent"}}
        }
      ],
      "spacing": 0,
      "bounds": "flush",
      "resolve": {"scale": {"color": "independent", "shape": "independent", "size": "independent"}}
    }
  ],
  "spacing": 1171,
  "bounds": "flush",
  "resolve": {"scale": {"color": "independent", "shape": "independent", "size": "independent"}}
}
